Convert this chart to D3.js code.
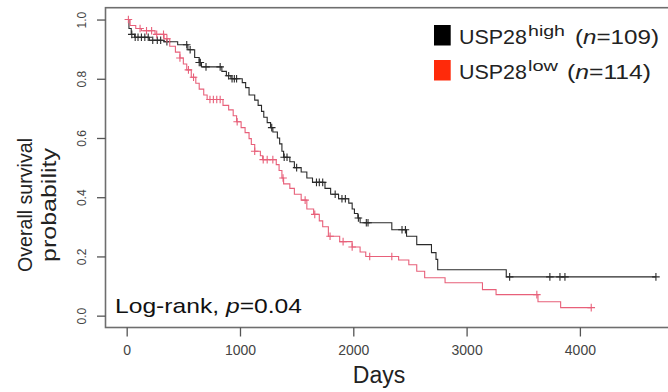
<!DOCTYPE html>
<html>
<head>
<meta charset="utf-8">
<script src="https://cdn.jsdelivr.net/npm/d3@7"></script>
<style>
  body { margin: 0; background: #fff; }
  text { font-family: "Liberation Sans", Arial, sans-serif; }
</style>
</head>
<body>
<div id="km"></div>
<script>
// Kaplan-Meier steps: day of each drop and the survival right after it
const highDays = [0, 20, 40, 70, 200, 330, 450, 540, 600, 640, 660, 840, 880, 920, 1020, 1050, 1080, 1130, 1160, 1190, 1210, 1240, 1270, 1290, 1330, 1350, 1370, 1385, 1440, 1480, 1540, 1590, 1640, 1750, 1800, 1870, 1960, 1990, 2010, 2040, 2060, 2340, 2470, 2560, 2690, 2730, 2745, 3350, 4671];
const highSurv = [1.0, 0.97, 0.95, 0.94, 0.93, 0.925, 0.915, 0.898, 0.872, 0.855, 0.84, 0.825, 0.81, 0.80, 0.787, 0.77, 0.745, 0.728, 0.71, 0.69, 0.67, 0.652, 0.635, 0.62, 0.60, 0.58, 0.555, 0.535, 0.52, 0.50, 0.485, 0.465, 0.45, 0.43, 0.41, 0.395, 0.38, 0.36, 0.345, 0.33, 0.314, 0.29, 0.268, 0.24, 0.213, 0.19, 0.155, 0.131, 0.131];
const highCensor = [45, 75, 100, 130, 160, 190, 230, 270, 300, 355, 530, 560, 640, 650, 700, 825, 900, 930, 950, 970, 1280, 1390, 1415, 1500, 1675, 1700, 1730, 1840, 1900, 1930, 2045, 2115, 2130, 2430, 2460, 3380, 3735, 3824, 3868, 4671];

const lowDays = [0, 30, 80, 130, 250, 330, 380, 430, 470, 500, 530, 570, 610, 640, 680, 710, 850, 900, 940, 970, 1010, 1045, 1080, 1100, 1130, 1180, 1200, 1320, 1345, 1370, 1385, 1440, 1480, 1540, 1590, 1650, 1700, 1730, 1780, 1880, 1990, 2060, 2110, 2400, 2490, 2560, 2630, 2810, 3140, 3260, 3630, 3830, 4100];
const lowSurv = [1.0, 0.98, 0.97, 0.962, 0.95, 0.935, 0.91, 0.89, 0.87, 0.85, 0.83, 0.805, 0.785, 0.765, 0.745, 0.73, 0.71, 0.695, 0.675, 0.655, 0.635, 0.618, 0.598, 0.578, 0.555, 0.54, 0.527, 0.51, 0.49, 0.465, 0.445, 0.43, 0.41, 0.39, 0.36, 0.342, 0.32, 0.30, 0.268, 0.25, 0.232, 0.215, 0.20, 0.188, 0.172, 0.15, 0.128, 0.111, 0.088, 0.071, 0.047, 0.027, 0.027];
const lowCensor = [15, 118, 175, 220, 265, 325, 355, 470, 545, 590, 735, 765, 795, 825, 975, 1130, 1205, 1240, 1290, 1380, 1575, 1660, 1795, 1910, 1990, 2145, 2340, 3620, 4100];

const xTicks = [0, 1000, 2000, 3000, 4000];
const yTicks = [0, 0.2, 0.4, 0.6, 0.8, 1.0];

const W = 668, H = 392;
const svg = d3.select("#km").append("svg")
    .attr("width", W).attr("height", H);

// R-style limits, padded 4% on each side
const x = d3.scaleLinear().domain([-187, 4857]).range([105.5, 677]);
const y = d3.scaleLinear().domain([-0.04, 1.04]).range([327.5, 7.7]);

// box
svg.append("rect")
    .attr("x", x.range()[0]).attr("y", y.range()[1])
    .attr("width", x.range()[1] - x.range()[0])
    .attr("height", y.range()[0] - y.range()[1])
    .attr("fill", "none").attr("stroke", "#6e6e6e").attr("stroke-width", 1.6);

// axes
const xAxis = svg.append("g")
    .attr("transform", "translate(0," + y.range()[0] + ")")
    .call(d3.axisBottom(x).tickValues(xTicks).tickSize(9).tickPadding(9).tickFormat(d3.format("d")));
xAxis.select(".domain").remove();
xAxis.selectAll("line").attr("stroke", "#555").attr("stroke-width", 1.3);
xAxis.selectAll("text").attr("font-size", 14).attr("fill", "#444")
    .attr("font-family", "Liberation Sans, Arial, sans-serif");

const yAxis = svg.append("g")
    .attr("transform", "translate(" + x.range()[0] + ",0)")
    .call(d3.axisLeft(y).tickValues(yTicks).tickSize(8.5).tickFormat(d3.format(".1f")));
yAxis.select(".domain").remove();
yAxis.selectAll("line").attr("stroke", "#555").attr("stroke-width", 1.3);
yAxis.selectAll("text")
    .attr("font-size", 12).attr("fill", "#444")
    .attr("font-family", "Liberation Sans, Arial, sans-serif")
    .attr("text-anchor", "middle")
    .attr("x", null).attr("dy", null).attr("y", 0)
    .attr("transform", "translate(-19.5,0) rotate(-90)");

// survival curves
const step = d3.line()
    .x(d => x(d[0]))
    .y(d => y(d[1]))
    .curve(d3.curveStepAfter);

function survAt(days, surv, t) {
  const i = d3.bisectRight(days, t) - 1;
  return surv[Math.max(0, i)];
}

const groups = [
  {days: highDays, surv: highSurv, censor: highCensor, color: "#2a2a2a"},
  {days: lowDays, surv: lowSurv, censor: lowCensor, color: "#e8607a"}
];

groups.forEach(g => {
  svg.append("path")
      .datum(d3.zip(g.days, g.surv))
      .attr("fill", "none")
      .attr("stroke", g.color)
      .attr("stroke-width", 1.1)
      .attr("d", step);

  svg.append("g")
      .selectAll("path")
      .data(g.censor)
      .join("path")
      .attr("fill", "none")
      .attr("stroke", g.color)
      .attr("stroke-width", 1.1)
      .attr("d", t => {
        const cx = x(t), cy = y(survAt(g.days, g.surv, t)), r = 3.8;
        return "M" + (cx - r) + "," + cy + "H" + (cx + r) + "M" + cx + "," + (cy - r) + "V" + (cy + r);
      });
});

// axis titles
svg.append("text")
    .attr("x", 379).attr("y", 383)
    .attr("text-anchor", "middle")
    .attr("font-size", 23).attr("fill", "#222")
    .text("Days");

svg.append("text")
    .attr("transform", "translate(32,205) rotate(-90)")
    .attr("text-anchor", "middle")
    .attr("font-size", 21).attr("fill", "#222")
    .attr("textLength", 134).attr("lengthAdjust", "spacingAndGlyphs")
    .text("Overall survival");

svg.append("text")
    .attr("transform", "translate(55.5,205) rotate(-90)")
    .attr("text-anchor", "middle")
    .attr("font-size", 21).attr("fill", "#222")
    .attr("textLength", 114).attr("lengthAdjust", "spacingAndGlyphs")
    .text("probability");

// log-rank annotation
const lr = svg.append("text")
    .attr("x", 115).attr("y", 313.3)
    .attr("font-size", 21).attr("fill", "#111")
    .attr("textLength", 187).attr("lengthAdjust", "spacingAndGlyphs");
lr.append("tspan").text("Log-rank, ");
lr.append("tspan").attr("font-style", "italic").text("p");
lr.append("tspan").text("=0.04");

// legend
const legend = [
  {label: "USP28", sup: "high", supW: 37, n: "=109)", nX: 575, fill: "#000000", y: 25},
  {label: "USP28", sup: "low", supW: 30, n: "=114)", nX: 567, fill: "#ff2a0a", y: 60}
];
legend.forEach(l => {
  svg.append("rect")
      .attr("x", 434).attr("y", l.y)
      .attr("width", 16.7).attr("height", 20.5)
      .attr("fill", l.fill);
  const base = l.y + 18.5;
  svg.append("text")
      .attr("x", 459).attr("y", base)
      .attr("font-size", 21).attr("fill", "#222")
      .attr("textLength", 68).attr("lengthAdjust", "spacingAndGlyphs")
      .text(l.label);
  svg.append("text")
      .attr("x", 528).attr("y", base - 8)
      .attr("font-size", 14).attr("fill", "#222")
      .attr("textLength", l.supW).attr("lengthAdjust", "spacingAndGlyphs")
      .text(l.sup);
  const t = svg.append("text")
      .attr("x", l.nX).attr("y", base)
      .attr("font-size", 21).attr("fill", "#222")
      .attr("textLength", 84).attr("lengthAdjust", "spacingAndGlyphs");
  t.append("tspan").text("(");
  t.append("tspan").attr("font-style", "italic").text("n");
  t.append("tspan").text(l.n);
});
</script>
</body>
</html>
